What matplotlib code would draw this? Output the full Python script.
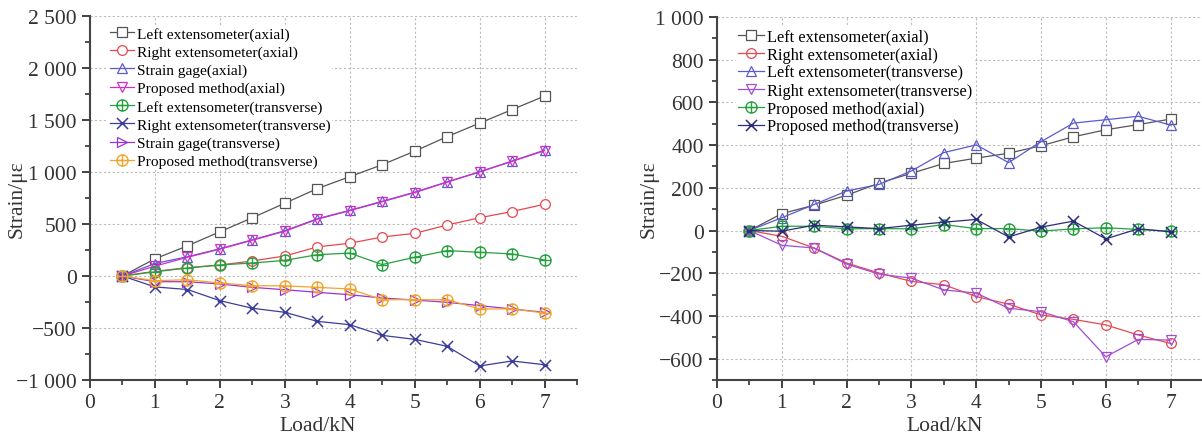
import numpy as np
import matplotlib
matplotlib.use('Agg')
import matplotlib.pyplot as plt
from matplotlib.path import Path
from matplotlib.ticker import MultipleLocator, FuncFormatter

plt.rcParams['font.family'] = ['Liberation Serif', 'DejaVu Serif']

load = [0.5, 1, 1.5, 2, 2.5, 3, 3.5, 4, 4.5, 5, 5.5, 6, 6.5, 7]

# left chart: 8 series
left_ext_axial = [0, 165, 290, 425, 560, 700, 840, 955, 1070, 1200, 1340, 1470, 1600, 1730]
right_ext_axial = [0, 45, 80, 105, 145, 192, 280, 315, 375, 410, 490, 560, 620, 690]
gage_axial = [0, 120, 185, 262, 348, 435, 550, 632, 718, 806, 905, 1002, 1105, 1210]
proposed_axial = [0, 95, 180, 258, 344, 430, 546, 628, 714, 802, 902, 1000, 1102, 1205]
left_ext_trans = [0, 40, 77, 106, 125, 150, 205, 220, 110, 180, 244, 228, 212, 154]
right_ext_trans = [0, -105, -130, -237, -310, -349, -436, -468, -571, -609, -676, -865, -817, -853]
gage_trans = [0, -55, -55, -77, -109, -132, -157, -180, -212, -231, -253, -285, -317, -349]
proposed_trans = [0, -45, -36, -67, -93, -95, -109, -125, -228, -228, -228, -317, -317, -356]

# right chart: 6 series
r_left_ext_axial = [0, 79, 119, 165, 222, 268, 314, 339, 362, 397, 439, 472, 496, 522]
r_right_ext_axial = [0, -27, -82, -152, -199, -238, -254, -309, -345, -395, -416, -442, -489, -529]
r_left_ext_trans = [0, 60, 122, 185, 216, 279, 365, 401, 318, 416, 503, 519, 535, 494]
r_right_ext_trans = [0, -69, -82, -157, -204, -223, -278, -293, -364, -380, -427, -591, -510, -513]
r_proposed_axial = [0, 20, 20, 8, 9, 8, 28, 9, 9, -3, 8, 13, 5, -3]
r_proposed_trans = [0, -3, 25, 17, 9, 25, 39, 52, -30, 16, 44, -39, 8, -6]

# circle with a plus inside
circ = Path.unit_circle()
cross = Path([(-1, 0), (1, 0), (0, -1), (0, 1)],
             [Path.MOVETO, Path.LINETO, Path.MOVETO, Path.LINETO])
oplus = Path.make_compound_path(circ, cross)
# x with small bars (asterisk-like cross)
xstar = Path([(-1, -1), (1, 1), (-1, 1), (1, -1), (-0.5, 0), (0.5, 0)],
             [Path.MOVETO, Path.LINETO, Path.MOVETO, Path.LINETO, Path.MOVETO, Path.LINETO])


def fmt(v, pos):
    s = '{:,}'.format(int(round(v))).replace(',', ' ')
    return s.replace('-', '\u2212')


def style_axes(ax, ylo, yhi, ymaj, ymin, ylab_x):
    ax.set_xlim(0, 7.5)
    ax.set_ylim(ylo, yhi)
    ax.xaxis.set_major_locator(MultipleLocator(1))
    ax.xaxis.set_minor_locator(MultipleLocator(0.5))
    ax.yaxis.set_major_locator(MultipleLocator(ymaj))
    ax.yaxis.set_minor_locator(MultipleLocator(ymin))
    ax.yaxis.set_major_formatter(FuncFormatter(fmt))
    for s in ['top', 'right']:
        ax.spines[s].set_visible(False)
    for s in ['left', 'bottom']:
        ax.spines[s].set_linewidth(1.5)
        ax.spines[s].set_color('#444444')
    ax.tick_params(which='major', direction='out', length=6, width=1.3,
                   labelsize=15.5, colors='#333333')
    ax.tick_params(which='minor', direction='out', length=3.5, width=1.2,
                   colors='#333333')
    ax.grid(True, which='major', linestyle=(0, (2, 2)), color='#bbbbbb', linewidth=0.8)
    ax.set_axisbelow(True)
    ax.set_xlabel('Load/kN', fontsize=15.5, color='#333333')
    ax.set_ylabel('Strain/\u03bc\u03b5', fontsize=15.5, color='#333333')
    ax.xaxis.set_label_coords(0.468, -0.1)
    ax.yaxis.set_label_coords(ylab_x, 0.5)


fig = plt.figure(figsize=(12.02, 4.39), dpi=100)
ax1 = fig.add_axes([90 / 1202, 1 - 381 / 439, 487 / 1202, 364 / 439])
ax2 = fig.add_axes([717 / 1202, 1 - 381 / 439, 486 / 1202, 363 / 439])

kw = dict(linewidth=0.9, markersize=7, markeredgewidth=0.9)
kp = dict(linewidth=0.9, markersize=8, markeredgewidth=1.0, mfc='none')
kx = dict(linewidth=0.9, markersize=8, markeredgewidth=1.1)

ax1.plot(load, left_ext_axial, marker='s', color='#555555', mfc='white', label='Left extensometer(axial)', **kw)
ax1.plot(load, right_ext_axial, marker='o', color='#e8474f', mfc='white', label='Right extensometer(axial)', **kw)
ax1.plot(load, gage_axial, marker='^', color='#5b5bd0', mfc='none', label='Strain gage(axial)', **kw)
ax1.plot(load, proposed_axial, marker='v', color='#d42cc8', mfc='none', label='Proposed method(axial)', **kw)
ax1.plot(load, left_ext_trans, marker=oplus, color='#27a040', label='Left extensometer(transverse)', **kp)
ax1.plot(load, right_ext_trans, marker=xstar, color='#3c3c9c', label='Right extensometer(transverse)', **kx)
ax1.plot(load, gage_trans, marker='>', color='#9a34d6', mfc='none', label='Strain gage(transverse)', **kw)
ax1.plot(load, proposed_trans, marker=oplus, color='#f2a52c', label='Proposed method(transverse)', **kp)
style_axes(ax1, -1000, 2500, 500, 250, -0.131)

ax2.plot(load, r_left_ext_axial, marker='s', color='#555555', mfc='white', label='Left extensometer(axial)', **kw)
ax2.plot(load, r_right_ext_axial, marker='o', color='#e8474f', mfc='none', label='Right extensometer(axial)', **kw)
ax2.plot(load, r_left_ext_trans, marker='^', color='#5b5bd0', mfc='none', label='Left extensometer(transverse)', **kw)
ax2.plot(load, r_right_ext_trans, marker='v', color='#a04ed6', mfc='none', label='Right extensometer(transverse)', **kw)
ax2.plot(load, r_proposed_axial, marker=oplus, color='#27a040', label='Proposed method(axial)', **kp)
ax2.plot(load, r_proposed_trans, marker=xstar, color='#2c2c7c', label='Proposed method(transverse)', **kx)
style_axes(ax2, -700, 1000, 200, 100, -0.121)

leg_kw = dict(loc='upper left', frameon=True, facecolor='white', edgecolor='none', framealpha=1,
              handlelength=1.6, handletextpad=0.2, borderpad=0.1, borderaxespad=0)
ax1.legend(bbox_to_anchor=(108 / 1202, 1 - 26 / 439), bbox_transform=fig.transFigure,
           prop={'size': 11.1}, labelspacing=0.28, **leg_kw)
ax2.legend(bbox_to_anchor=(736 / 1202, 1 - 28 / 439), bbox_transform=fig.transFigure,
           prop={'size': 11.8}, labelspacing=0.12, **leg_kw)

fig.savefig('out.png', dpi=100)
